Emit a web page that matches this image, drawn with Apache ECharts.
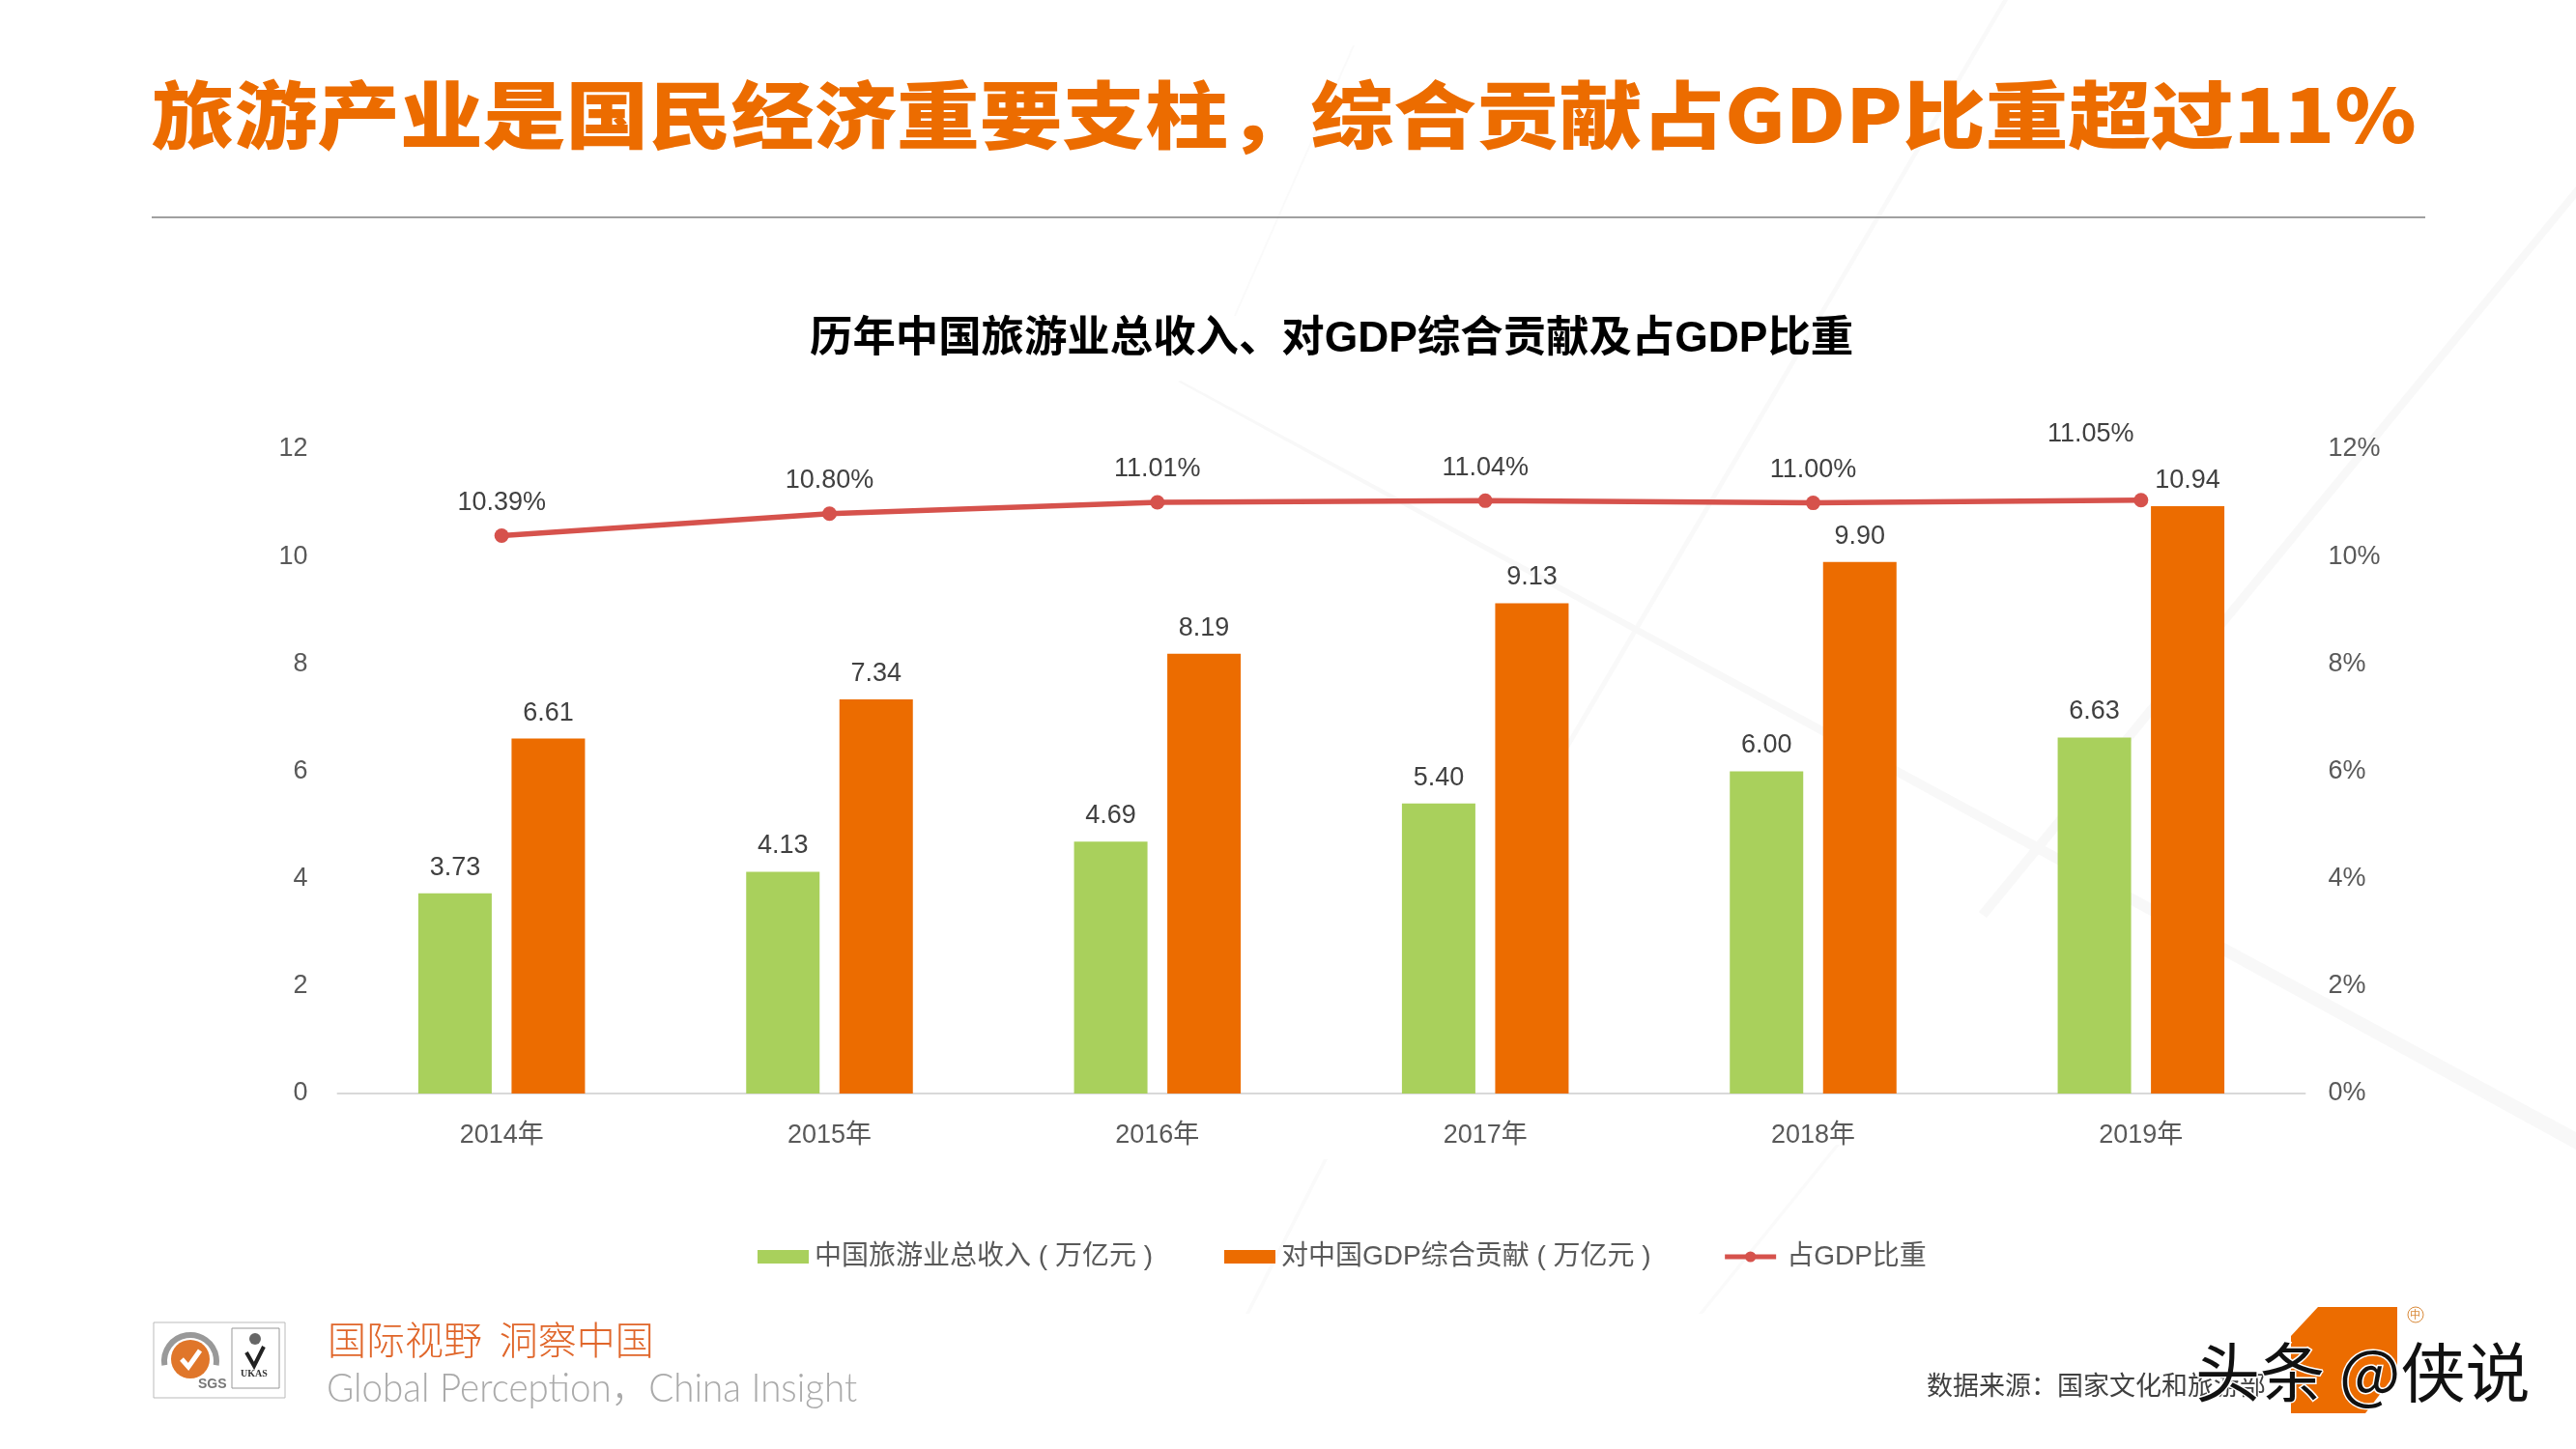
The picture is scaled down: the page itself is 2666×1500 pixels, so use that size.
<!DOCTYPE html>
<html><head><meta charset="utf-8">
<style>html,body{margin:0;padding:0;background:#fff}#c{width:2666px;height:1500px}</style>
<script src="https://cdn.jsdelivr.net/npm/echarts@6/dist/echarts.min.js"></script>
</head><body><div id="c"></div>
<script>
const categories = ['2014年','2015年','2016年','2017年','2018年','2019年'];
const tourismRevenue = [3.73,4.13,4.69,5.40,6.00,6.63];
const gdpContribution = [6.61,7.34,8.19,9.13,9.90,10.94];
const gdpShare = [10.39,10.80,11.01,11.04,11.00,11.05];
const seriesNames = ['中国旅游业总收入 ( 万亿元 )','对中国GDP综合贡献 ( 万亿元 )','占GDP比重'];
const pageTitle = '旅游产业是国民经济重要支柱，综合贡献占GDP比重超过11%';
const chartTitle = '历年中国旅游业总收入、对GDP综合贡献及占GDP比重';
const sourceText = '数据来源：国家文化和旅游部';
const FONT = '"Liberation Sans","Noto Sans CJK SC",sans-serif';
const ORANGE='#EC6C00', GREEN='#A9D05C', RED='#D6524C';

const streak=(pts,c)=>({type:'polygon',silent:true,z:-10,shape:{points:pts},style:{fill:c||'#f8f8f8'}});
const txt=(x,y,text,font,fill,extra)=>({type:'text',x,y,silent:true,z:5,style:Object.assign({text,font,fill,textVerticalAlign:'middle',textBaseline:'middle'},extra||{})});

const chart = echarts.init(document.getElementById('c'),null,{renderer:'canvas'});
chart.setOption({
  animation:false,
  backgroundColor:'#fff',
  textStyle:{fontFamily:FONT},
  title:{text:chartTitle,left:838,top:330,padding:0,textStyle:{fontFamily:FONT,fontSize:44.4,fontWeight:'bold',color:'#000'}},
  legend:{
    left:784,top:1287,padding:0,itemWidth:53,itemHeight:14,itemGap:74,
    lineStyle:{width:5},
    data:[{name:seriesNames[0],icon:'rect'},{name:seriesNames[1],icon:'rect',textStyle:{padding:[0,-7,0,1]}},
          {name:seriesNames[2],textStyle:{padding:[0,0,0,6]}}],
    textStyle:{fontFamily:FONT,fontSize:28,color:'#595959',padding:[0,0,0,1]}
  },
  grid:{left:349.5,right:280.5,top:465,bottom:368},
  xAxis:{type:'category',data:categories,
    axisLine:{lineStyle:{color:'#D9D9D9',width:2}},axisTick:{show:false},
    axisLabel:{fontSize:27,color:'#595959',margin:30,fontFamily:FONT}},
  yAxis:[
    {type:'value',min:0,max:12,interval:2,splitLine:{show:false},axisLine:{show:false},axisTick:{show:false},
     axisLabel:{fontSize:27,color:'#595959',margin:31,fontFamily:FONT}},
    {type:'value',min:0,max:12,interval:2,position:'right',splitLine:{show:false},axisLine:{show:false},axisTick:{show:false},
     axisLabel:{fontSize:27,color:'#595959',margin:24,fontFamily:FONT,formatter:'{value}%'}}
  ],
  series:[
    {name:seriesNames[0],type:'bar',data:tourismRevenue,barWidth:76,barGap:'27%',itemStyle:{color:GREEN},
     label:{show:true,position:'top',distance:13,fontSize:27,color:'#404040',fontFamily:FONT,formatter:p=>p.value.toFixed(2)}},
    {name:seriesNames[1],type:'bar',data:gdpContribution,barWidth:76,itemStyle:{color:ORANGE},
     label:{show:true,position:'top',distance:13,fontSize:27,color:'#404040',fontFamily:FONT,formatter:p=>p.value.toFixed(2)}},
    {name:seriesNames[2],type:'line',yAxisIndex:1,
     data:gdpShare.map((v,i)=>i===5?{value:v,label:{offset:[-52,-34]}}:v),
     symbol:'circle',symbolSize:15,z:4,
     lineStyle:{color:RED,width:5.5},itemStyle:{color:RED},
     label:{show:true,position:'top',distance:13,fontSize:27,color:'#404040',fontFamily:FONT,formatter:p=>p.value.toFixed(2)+'%'}}
  ],
  graphic:{elements:[
    streak([[2073,0],[2078,0],[1600,815],[1596,812]],'#f9f9f9'),
    streak([[2666,193],[2666,205],[2056,950],[2048,944]]),
    streak([[1219,395],[1222,394],[2666,1172],[2666,1190]]),
    streak([[1400,47],[1402,47],[1279,327],[1277,327]],'#fafafa'),
    streak([[1900,1185],[1904,1185],[1762,1360],[1758,1360]],'#fafafa'),
    streak([[1370,1200],[1374,1200],[1293,1360],[1289,1360]],'#fafafa'),
    {type:'text',x:157,y:119,scaleX:1.008,scaleY:0.9,silent:true,z:5,style:{text:pageTitle,font:'900 85px "Noto Sans CJK SC",sans-serif',fill:ORANGE,textBaseline:'middle',textVerticalAlign:'middle'}},
    {type:'line',silent:true,shape:{x1:157,y1:225,x2:2510,y2:225},style:{stroke:'#808080',lineWidth:1.5}},
    // certification badge
    {type:'rect',silent:true,shape:{x:159,y:1369,width:136,height:78},style:{fill:'#fff',stroke:'#bbb',lineWidth:1}},
    {type:'arc',silent:true,shape:{cx:197,cy:1409,r:27,startAngle:Math.PI*0.95,endAngle:Math.PI*2.05},style:{stroke:'#999',lineWidth:6,fill:null}},
    {type:'circle',silent:true,shape:{cx:197,cy:1407,r:20},style:{fill:'#E0762A'}},
    {type:'polyline',silent:true,shape:{points:[[188,1407],[195,1415],[207,1398]]},style:{stroke:'#fff',lineWidth:5,fill:null}},
    txt(205,1433,'SGS','bold 14px "Liberation Sans"','#777'),
    {type:'rect',silent:true,shape:{x:240,y:1375,width:49,height:62},style:{fill:'#fff',stroke:'#999',lineWidth:1}},
    {type:'circle',silent:true,shape:{cx:264,cy:1386,r:6},style:{fill:'#666'}},
    {type:'polyline',silent:true,shape:{points:[[255,1400],[263,1414],[273,1394]]},style:{stroke:'#222',lineWidth:4,fill:null}},
    txt(249,1422,'UKAS','bold 10px "Liberation Serif"','#333'),
    txt(339,1387,'国际视野  洞察中国','300 40px "Noto Sans CJK SC"','#E0662A'),
    {type:'text',x:338,y:1438,scaleX:0.94,silent:true,z:5,style:{text:'Global Perception，China Insight',font:'300 41px Lato,"Noto Sans CJK SC"',fill:'#AAAAAA',textVerticalAlign:'middle',textBaseline:'middle'}},
    // company mark
    {type:'polygon',silent:true,z:3,shape:{points:[[2371,1383],[2399,1353],[2481,1353],[2481,1420],[2448,1463],[2371,1463]]},style:{fill:ORANGE}},
    {type:'circle',silent:true,z:3,shape:{cx:2500,cy:1361,r:8},style:{fill:'#fff',stroke:'#D98A3A',lineWidth:1}},
    txt(2494,1361,'中','11px "Noto Sans CJK SC"','#D98A3A',{}),
    txt(1994,1434,sourceText,'27px "Noto Sans CJK SC"','#404040',{}),
    {type:'text',x:2272,y:1421,silent:true,z:8,style:{text:'头条 @侠说',font:'400 67px "Noto Sans CJK SC"',fill:'#111',stroke:'#fff',lineWidth:3,textBaseline:'middle',textVerticalAlign:'middle'}}
  ]}
});
</script></body></html>
